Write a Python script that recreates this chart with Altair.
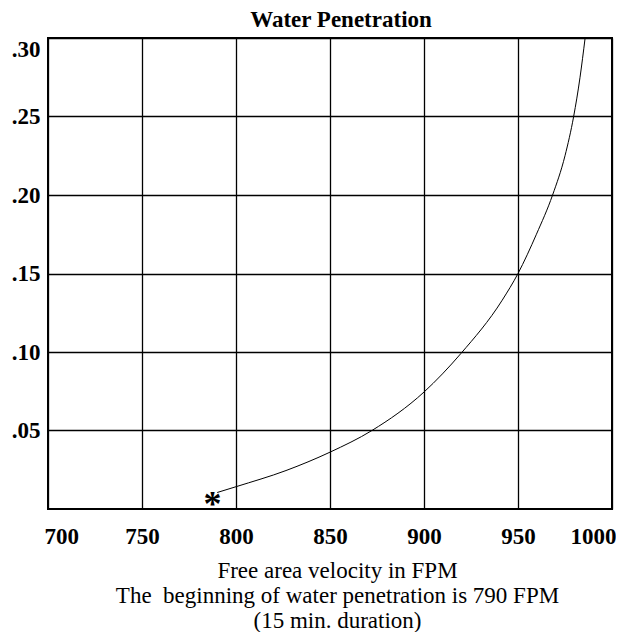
import altair as alt
import pandas as pd

# Curve (free area velocity FPM vs water penetration)
velocity = [790, 800, 826.6, 850, 872.3, 900, 919.6, 941.6, 950, 959.8, 968.4, 975, 979.6, 983, 985.7]
penetration = [0.0105, 0.0142, 0.0245, 0.0362, 0.05, 0.0745, 0.099, 0.133, 0.15, 0.175, 0.20, 0.225, 0.25, 0.275, 0.30]

# Start marker
marker_x = [787.5]
marker_y = [0.0065]
marker_text = ["*"]

x_ticks = [700, 750, 800, 850, 900, 950, 1000]
y_ticks = [0.05, 0.10, 0.15, 0.20, 0.25, 0.30]

title_text = "Water Penetration"
x_title = [
    "Free area velocity in FPM",
    "The\u00a0 beginning of water penetration is 790 FPM",
    "(15 min. duration)",
]

FONT = "Liberation Serif"

curve_df = pd.DataFrame({"v": velocity, "p": penetration})
marker_df = pd.DataFrame({"v": marker_x, "p": marker_y, "t": marker_text})

x_scale = alt.Scale(domain=[700, 1000], nice=False, zero=False)
y_scale = alt.Scale(domain=[0, 0.30], nice=False, zero=False)

x_axis = alt.Axis(
    values=x_ticks,
    format="d",
    title=x_title,
    titleFont=FONT,
    titleFontSize=23,
    titleFontWeight="normal",
    titleColor="black",
    titleLineHeight=25,
    titleX=289,
    titleY=68,
    titleAlign="center",
    titleBaseline="alphabetic",
    labelFont=FONT,
    labelFontSize=23,
    labelFontWeight="bold",
    labelColor="black",
    labelPadding=16,
    labelFlush=True,
    labelFlushOffset=4,
    ticks=False,
    domain=False,
    grid=True,
    gridColor="black",
    gridWidth=1.3,
    gridOpacity=1,
)

y_axis = alt.Axis(
    values=y_ticks,
    title=None,
    labelExpr="substring(format(datum.value, '.2f'), 1)",
    labelFont=FONT,
    labelFontSize=23,
    labelFontWeight="bold",
    labelColor="black",
    labelPadding=8,
    labelFlush=True,
    labelFlushOffset=0,
    ticks=False,
    domain=False,
    grid=True,
    gridColor="black",
    gridWidth=1.3,
    gridOpacity=1,
)

curve = alt.Chart(curve_df).mark_line(
    color="black", strokeWidth=1, interpolate="monotone"
).encode(
    x=alt.X("v:Q", scale=x_scale, axis=x_axis),
    y=alt.Y("p:Q", scale=y_scale, axis=y_axis),
)

marker = alt.Chart(marker_df).mark_text(
    font=FONT, fontSize=36, fontWeight="bold", color="black",
    baseline="alphabetic", align="center", dy=17,
).encode(
    x=alt.X("v:Q", scale=x_scale),
    y=alt.Y("p:Q", scale=y_scale),
    text="t:N",
)

chart = alt.layer(curve, marker).properties(
    width=564,
    height=471,
    title=alt.TitleParams(
        text=title_text,
        font=FONT,
        fontSize=23,
        fontWeight="bold",
        color="black",
        anchor="middle",
        frame="group",
        offset=4,
        dx=11,
    ),
    autosize=alt.AutoSizeParams(type="none"),
    padding={"left": 40, "top": 30, "right": 4, "bottom": 123},
    background="white",
).configure_view(
    stroke="black", strokeWidth=2
)

chart.save("out.html", embed_options={"renderer": "svg", "actions": False})
